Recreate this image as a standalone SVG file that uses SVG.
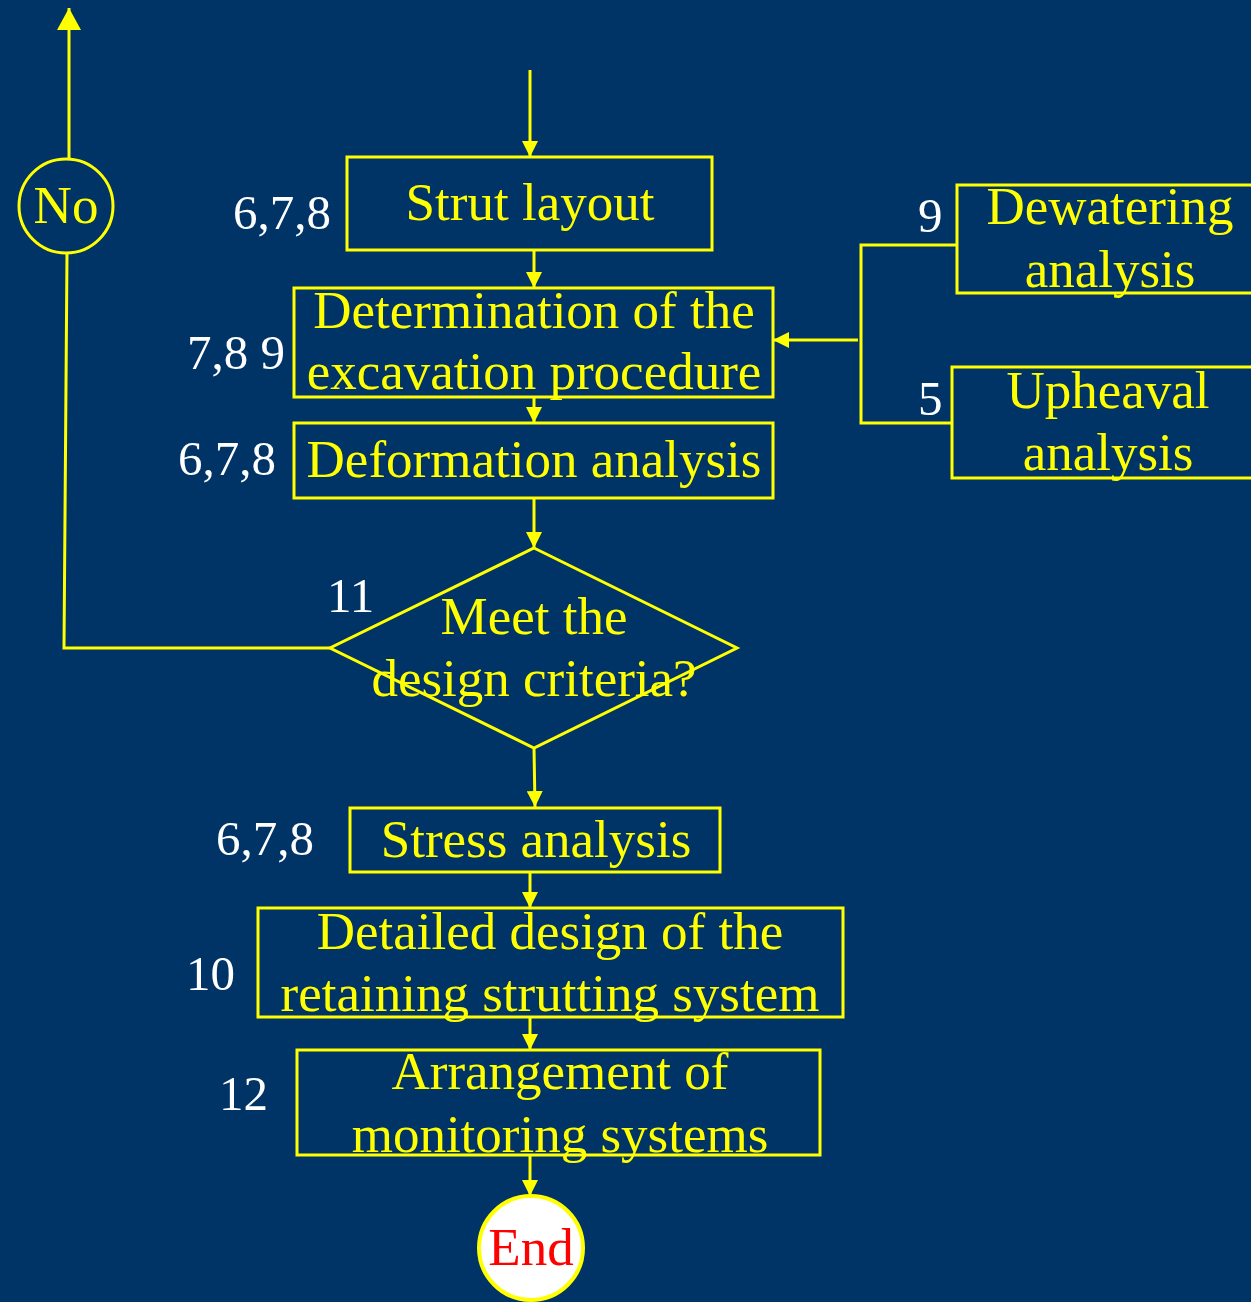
<svg xmlns="http://www.w3.org/2000/svg" width="1251" height="1302" viewBox="0 0 1251 1302">
<defs>
<style>
.box{fill:none;stroke:#FFFF00;stroke-width:3}
.ln{fill:none;stroke:#FFFF00;stroke-width:3}
.t{font-family:"Liberation Serif","Times New Roman",serif;font-size:53px;fill:#FFFF00;text-anchor:middle}
.n{font-family:"Liberation Serif","Times New Roman",serif;font-size:49px;fill:#FFFFFF}
</style>
<marker id="ah" markerUnits="userSpaceOnUse" markerWidth="16" markerHeight="16" refX="16" refY="8" orient="auto">
<path d="M0,0 L16,8 L0,16 Z" fill="#FFFF00"/>
</marker>
<marker id="ahb" markerUnits="userSpaceOnUse" markerWidth="22" markerHeight="24" refX="22" refY="12" orient="auto">
<path d="M0,0 L22,12 L0,24 Z" fill="#FFFF00"/>
</marker>
</defs>
<rect x="0" y="0" width="1251" height="1302" fill="#003366"/>

<g id="connectors">
<line class="ln" x1="69" y1="159" x2="69" y2="8" marker-end="url(#ahb)"/>
<polyline class="ln" points="67,253 64,648 330,648"/>
<line class="ln" x1="530" y1="70" x2="530" y2="157" marker-end="url(#ah)"/>
<line class="ln" x1="534" y1="250" x2="534" y2="288" marker-end="url(#ah)"/>
<line class="ln" x1="534" y1="397" x2="534" y2="423" marker-end="url(#ah)"/>
<line class="ln" x1="534" y1="498" x2="534" y2="548" marker-end="url(#ah)"/>
<line class="ln" x1="534" y1="748" x2="535" y2="807" marker-end="url(#ah)"/>
<line class="ln" x1="530" y1="872" x2="530" y2="908" marker-end="url(#ah)"/>
<line class="ln" x1="530" y1="1017" x2="530" y2="1050" marker-end="url(#ah)"/>
<line class="ln" x1="530" y1="1155" x2="530" y2="1196" marker-end="url(#ah)"/>
<polyline class="ln" points="957,245 861,245 861,423 952,423"/>
<line class="ln" x1="858" y1="340" x2="773" y2="340" marker-end="url(#ah)"/>
</g>

<g id="no">
<circle cx="66" cy="206" r="47" class="box"/>
<text class="t" x="66" y="223" font-size="50">No</text>
</g>

<g id="strut">
<rect class="box" x="347" y="157" width="365" height="93"/>
<text class="t" x="530" y="220">Strut layout</text>
<text class="n" x="331" y="229" text-anchor="end">6,7,8</text>
</g>

<g id="determination">
<rect class="box" x="294" y="288" width="479" height="109"/>
<text class="t" x="534" y="328">Determination of the</text>
<text class="t" x="534" y="389">excavation procedure</text>
<text class="n" x="285" y="369" text-anchor="end">7,8 9</text>
</g>

<g id="deformation">
<rect class="box" x="294" y="423" width="479" height="75"/>
<text class="t" x="534" y="477">Deformation analysis</text>
<text class="n" x="276" y="475" text-anchor="end">6,7,8</text>
</g>

<g id="decision">
<polygon class="box" points="534,548 737,648 534,748 330,648"/>
<text class="t" x="534" y="634">Meet the</text>
<text class="t" x="534" y="696">design criteria?</text>
<text class="n" x="327" y="612">11</text>
</g>

<g id="stress">
<rect class="box" x="350" y="808" width="370" height="64"/>
<text class="t" x="536" y="857">Stress analysis</text>
<text class="n" x="314" y="855" text-anchor="end">6,7,8</text>
</g>

<g id="detailed">
<rect class="box" x="258" y="908" width="585" height="109"/>
<text class="t" x="550" y="949">Detailed design of the</text>
<text class="t" x="550" y="1011">retaining strutting system</text>
<text class="n" x="186" y="990">10</text>
</g>

<g id="monitoring">
<rect class="box" x="297" y="1050" width="523" height="105"/>
<text class="t" x="560" y="1089">Arrangement of</text>
<text class="t" x="560" y="1152">monitoring systems</text>
<text class="n" x="219" y="1110">12</text>
</g>

<g id="end">
<circle cx="531" cy="1248" r="52" fill="#FFFFFF" stroke="#FFFF00" stroke-width="4"/>
<text class="t" x="531" y="1265" style="fill:#FF0000">End</text>
</g>

<g id="dewatering">
<rect class="box" x="957" y="185" width="300" height="108"/>
<text class="t" x="1110" y="224">Dewatering</text>
<text class="t" x="1110" y="287">analysis</text>
<text class="n" x="918" y="232">9</text>
</g>

<g id="upheaval">
<rect class="box" x="952" y="367" width="305" height="111"/>
<text class="t" x="1108" y="408">Upheaval</text>
<text class="t" x="1108" y="470">analysis</text>
<text class="n" x="918" y="415">5</text>
</g>
</svg>
